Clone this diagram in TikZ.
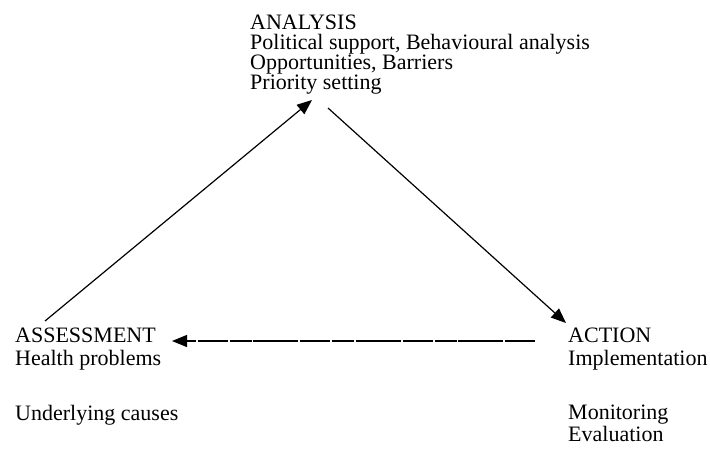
\documentclass[tikz,border=0pt]{standalone}
\usepackage{fontspec}
\setmainfont{Liberation Serif}
\usetikzlibrary{arrows.meta}
\begin{document}
\begin{tikzpicture}[x=1pt,y=-1pt,
  txt/.style={anchor=base west,inner sep=0pt,font=\fontsize{22}{22}\selectfont},
  link/.style={line width=1.2pt,-{Triangle[length=15pt,width=12pt]}}]
\useasboundingbox (0,0) rectangle (710,448);
% ANALYSIS block
\node[txt] (an1) at (250,29) {ANALYSIS};
\node[txt] (an2) at (250,49) {Political support, Behavioural analysis};
\node[txt] (an3) at (250,69) {Opportunities, Barriers};
\node[txt] (an4) at (250,89) {Priority setting};
% ASSESSMENT block
\node[txt] (as1) at (15,342) {ASSESSMENT};
\node[txt] (as2) at (15,365) {Health problems};
\node[txt] (as3) at (15,420) {Underlying causes};
% ACTION block
\node[txt] (ac1) at (568,342) {ACTION};
\node[txt] (ac2) at (568,365) {Implementation};
\node[txt] (ac3) at (568,419) {Monitoring};
\node[txt] (ac4) at (568,441) {Evaluation};
% connector ends
\coordinate (asTop) at (45,321);
\coordinate (anTip) at (312,100);
\coordinate (anOut) at (328,108);
\coordinate (acTip) at (566,323);
\coordinate (acLeft) at (535,341);
\coordinate (asTip) at (172,341);
\draw[link] (asTop) -- (anTip);
\draw[link] (anOut) -- (acTip);
\draw[link,dash pattern=on 30pt off 2pt on 45pt off 1.5pt on 22pt off 2pt] (acLeft) -- (asTip);
\end{tikzpicture}
\end{document}
